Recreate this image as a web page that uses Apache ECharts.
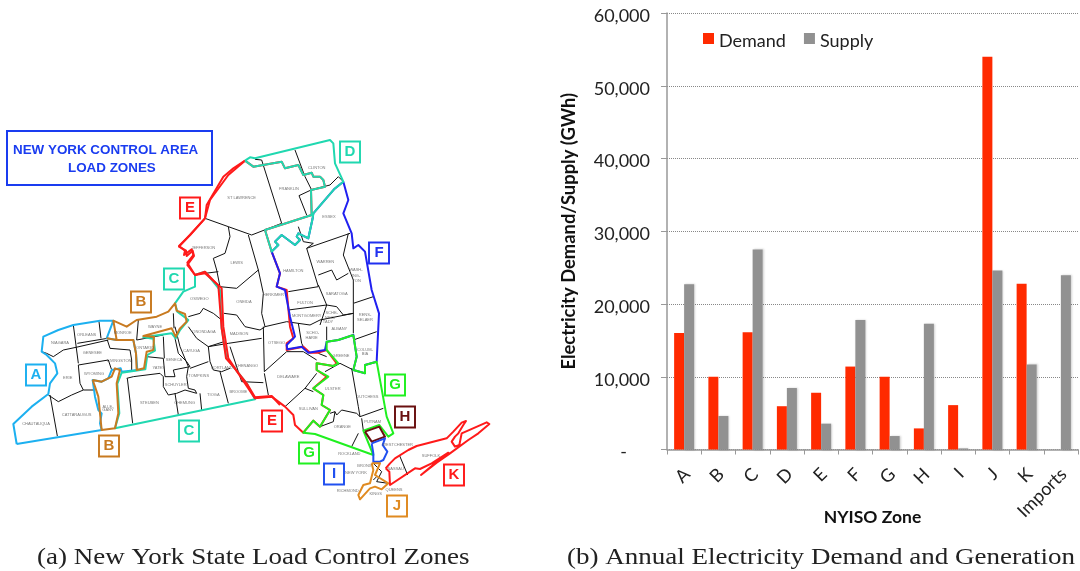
<!DOCTYPE html>
<html><head><meta charset="utf-8">
<style>html,body{margin:0;padding:0;background:#fff}#c{width:1080px;height:571px}</style>
<script src="https://cdn.jsdelivr.net/npm/echarts@6/dist/echarts.min.js"></script>
</head><body><div id="c"></div>
<script>
// ---------- bar chart data ----------
const categories=['A','B','C','D','E','F','G','H','I','J','K','Imports'];
const demand=[16000,10000,16100,5950,7800,11400,10000,2900,6100,54000,22800,0];
const supply=[22700,4600,27500,8450,3550,17800,1850,17300,150,24600,11700,23950];
const yTicks=[0,10000,20000,30000,40000,50000,60000];

// ---------- map outlines, west part and east part (each in its own map units) ----------
const zoneA=[50,972,40,912,95,860,145,822,150,790,172,760,165,730,140,705,125,695,130,650,175,630,220,615,300,602,340,602,320,655,350,660,400,660,408,700,412,750,365,755,362,745,335,750,325,775,305,785,278,780,285,830,295,870,305,880,300,910,305,930,50,972];
const zoneB1=[320,655,350,660,340,602,380,620,410,600,470,590,505,575,525,550,530,572,555,582,560,605,540,625,527,650,515,625,430,648,462,650,460,690,440,695,432,745,410,750,408,700,400,660,350,660];
const zoneB2=[278,780,305,785,335,770,345,745,360,750,350,790,355,880,345,925,305,930,300,880,295,830,285,800,278,780];
const zoneC=[615,455,585,465,585,500,550,515,525,550,532,575,565,600,540,630,527,655,515,640,430,652,460,656,465,692,442,705,436,748,365,758,352,792,358,880,345,925,765,838,740,790,700,740,680,715,665,625,660,510,615,455];
const zoneEw=[735,122,700,145,670,170,620,255,615,295,570,345,537,378,555,392,552,405,575,388,580,405,562,428,585,465,615,455,655,497,665,625,678,715,700,740,740,790,765,832,815,828,840,855];
const zoneE=[225,92,175,135,120,210,105,265,60,315,27,350,48,362,50,378,68,362,72,378,52,405,75,435,105,430,155,475,160,590,175,685,255,805,305,800,345,830,370,855,375,885,400,908,430,872,450,890,480,840,455,825,460,795,430,775,470,740,440,720,440,700,490,708,500,700,470,660,445,668,420,668,400,650,350,660,350,640,370,625,360,590,350,480,320,470,330,430,305,365,285,300,425,255,423,180,465,170,460,150,450,140,430,140,425,128,400,135,385,105,345,115,335,95,250,110,225,92];
const zoneD=[225,92,240,82,255,85,480,30,490,40,495,100,520,155,492,178,430,250,428,265,415,325,385,310,380,320,390,330,375,345,335,315,315,335,325,345,305,365,285,300,425,255,423,180,465,170,460,150,450,140,430,140,425,128,400,135,385,105,345,115,335,95,250,110,225,92];
const zoneF=[520,155,535,210,520,250,545,310,550,355,565,345,585,365,605,480,627,550,620,695,585,705,585,730,550,720,560,680,550,615,505,630,470,635,465,660,415,668,395,650,352,658,350,645,375,620,360,560,345,480,320,470,330,430,305,365,325,345,315,335,335,315,375,345,390,330,380,320,385,310,415,325,428,265,430,250,492,178,520,155];
const zoneG=[550,615,560,680,550,720,585,730,585,705,620,695,650,860,670,910,655,920,628,885,580,902,610,975,435,912,400,908,430,872,450,890,480,840,455,825,460,795,430,775,475,740,440,720,440,700,490,708,505,700,470,660,470,635,505,630,550,615];
const zoneH=[585,905,628,890,645,920,605,935,585,905];
const zoneI=[605,940,645,925,638,945,652,965,640,990,630,995,610,995,610,970,605,940];
const zoneJ=[605,1000,630,1000,615,1035,655,1060,635,1078,615,1070,600,1075,570,1108,565,1095,580,1065,600,1060,610,1020,605,1000];
const zoneK=[647,1015,660,1000,675,985,715,960,740,948,830,925,850,905,875,878,888,873,880,885,865,910,855,920,845,935,855,950,868,945,875,910,950,877,958,882,925,910,895,930,840,970,800,998,753,1035,750,1032,795,1000,835,968,785,1000,750,1017,735,1015,660,1065,658,1025,647,1015];

const countyLinesWest=[
 [145,825,175,845,215,825,250,810,285,810],[150,825,172,948],
 [125,695,140,700,160,710,190,690,228,682,325,660],[220,615,235,730],[232,670,322,655],[297,605,303,655],
 [235,735,240,790,250,810],[235,735,325,720,335,750],[322,660,330,685,390,690,395,720,395,750],
 [415,600,410,660],[520,580,522,625],[410,660,490,645],
 [380,775,400,770,480,760,490,770,490,800,505,825,530,820,555,810,590,820],[382,775,398,910],
 [440,710,490,715,495,770,525,770,520,750,570,740,560,725,535,700,525,655],[490,650,493,715],
 [525,620,540,680,565,740,560,770,565,805,585,810,590,820],[565,590,600,580,610,565,640,580,665,600],
 [565,620,590,655,625,680,672,665],[625,680,630,725,640,750,665,755,690,745],[625,725,570,745],
 [660,755,685,850],[600,820,605,870],[525,820,535,885]];
const countyLinesEast=[
 [105,265,175,290,245,315,335,280],[255,88,275,90,335,280],[375,60,405,140,425,180],[387,197,423,180],[387,197,410,255],
 [423,180,480,165,505,140,520,155],[175,290,180,320,165,370,130,385,140,420,150,470,200,475,265,420],[105,430,145,425],
 [235,315,265,420,280,490,275,550,285,590],[162,550,200,555,225,590,270,600,285,590,350,575,420,585,450,570,550,550],
 [175,640,275,625],[115,650,175,640],[180,650,215,755,280,758],[280,590,283,725,350,665],[283,730,295,795],
 [350,665,400,665,440,690],[440,730,405,775,345,830],[405,775,430,785],[385,290,400,335,430,340,410,355,540,310],[410,355,445,470,355,485],
 [445,435,485,420,500,450,535,430],[535,310,520,375,550,450,550,520,610,500],[445,465,470,525,450,585],
 [355,540,470,525,500,530,520,555,550,550],[550,520,550,610],[385,580,395,640,400,650],[470,590,470,630],[550,630,620,605],
 [445,670,470,680],[545,715,565,830,570,860,640,835],[575,865,580,902],[465,725,510,700,550,720],
 [480,850,495,845,500,855,515,840,560,850,570,860],[495,845,490,875,450,890],[565,910,545,950],[688,975,713,1035],
 [610,1000,635,1025,620,1055,655,1060],[610,1050,620,1040]];

const countiesWest=[['NIAGARA',180,670],['ORLEANS',260,644],['MONROE',368,640],['WAYNE',465,620],['GENESEE',277,700],['ERIE',203,775],['WYOMING',282,761],['LIVINGSTON',358,724],['ONTARIO',435,683],['YATES',476,744],['SENECA',522,721],['CAYUGA',575,694],['CATTARAUGUS',230,886],['CHAUTAUQUA',108,911],['ALLE-',324,860],['GANY',324,870],['STEUBEN',448,848],['CHEMUNG',554,850],['SCHUYLER',527,796],['TOMPKINS',596,769],['TIOGA',640,826],['BROOME',715,817],['CORTLAND',665,743],['ONONDAGA',612,635]];
const countiesEast=[['ST LAWRENCE',215,203],['FRANKLIN',357,176],['CLINTON',440,113],['ESSEX',477,260],['JEFFERSON',100,353],['LEWIS',200,398],['HAMILTON',370,422],['WARREN',466,395],['HERKIMER',310,495],['ONEIDA',222,515],['FULTON',405,518],['SARATOGA',500,491],['MONTGOMERY',410,557],['OSWEGO',88,506],['WASH-',558,420],['ING-',558,437],['TON',560,452],['RENS-',585,556],['SELAER',585,569],['SCHE-',485,550],['NEC-',480,563],['TADY',474,575],['ALBANY',508,596],['SCHO-',428,610],['HARIE',425,625],['OTSEGO',320,640],['MADISON',207,611],['CHENANGO',230,707],['COLUM-',585,660],['BIA',585,672],['GREENE',513,677],['DELAWARE',355,740],['ULSTER',488,776],['DUTCHESS',592,800],['SULLIVAN',415,838],['ORANGE',517,892],['PUTNAM',608,875],['WESTCHESTER',683,946],['ROCKLAND',538,973],['SUFFOLK',783,977],['NASSAU',677,1018],['BRONX',583,1007],['NEW YORK',558,1030],['RICHMOND',533,1082],['KINGS',617,1093],['QUEENS',672,1081]];

const zoneBoxes=[['A',36,375,'#1cb0f0'],['B',141,302,'#c87a20'],['C',174,279,'#20d8b0'],['E',190,208,'#ff1a1a'],['D',350,152,'#20d8b0'],['F',379,253,'#2030f0'],['G',395,385,'#20f020'],['H',405,417,'#6a1010'],['E',272,421,'#ff1a1a'],['G',309,453,'#20f020'],['I',334,474,'#2050f0'],['K',454,475,'#ff1a1a'],['J',397,506,'#e08a20'],['C',189,431,'#20d8b0'],['B',109,446,'#c87a20']];

// ---------- helpers ----------
const west=a=>{const o=[];for(let i=0;i<a.length;i+=2)o.push([a[i]/3,120+a[i+1]/3]);return o;};
const east=a=>{const o=[];for(let i=0;i<a.length;i+=2)o.push([170+a[i]/3,130+a[i+1]/3]);return o;};
const mapLine=(data,color,width)=>({type:'line',xAxisIndex:1,yAxisIndex:1,data,showSymbol:false,symbol:'none',silent:true,animation:false,
  lineStyle:{color,width,join:'round'},z:3});
const serif='"Liberation Serif","DejaVu Serif",serif';
const sans='Lato,"Open Sans",sans-serif';
const caption=(text,x,y,sx)=>({type:'text',x,y,scaleX:sx,style:{text,font:'23px '+serif,fill:'#222'}});
const labelRich=(pad)=>({t:{fontFamily:sans,fontSize:18,color:'#222',padding:[pad,0,0,0]}});

const series=[
 {name:'Demand',type:'bar',data:demand,barWidth:10,barGap:0,itemStyle:{color:'#ff2a00'},animation:false,z:4},
 {name:'Supply',type:'bar',data:supply,barWidth:10,barGap:0,itemStyle:{color:'#919191',shadowColor:'rgba(0,0,0,0.18)',shadowBlur:2,shadowOffsetX:1},animation:false,z:4},
];
countyLinesWest.forEach(l=>series.push(mapLine(west(l),'#111',1)));
countyLinesEast.forEach(l=>series.push(mapLine(east(l),'#111',1)));
[[west(zoneA),'#1cb0f0'],[west(zoneC),'#20d8b0'],[west(zoneB1),'#c87a20'],[west(zoneB2),'#c87a20'],[west(zoneEw),'#ff1a1a'],
 [east(zoneE),'#ff1a1a'],[east(zoneF),'#2020f0'],[east(zoneD),'#20d8b0'],[east(zoneG),'#20f020'],[east(zoneH),'#6a1010'],
 [east(zoneI),'#2050f0'],[east(zoneJ),'#e08a20'],[east(zoneK),'#ff1a1a']]
 .forEach(([d,c])=>series.push(mapLine(d,c,2)));
const countyPts=countiesWest.map(c=>({value:west([c[1],c[2]])[0],name:c[0]}))
  .concat(countiesEast.map(c=>({value:east([c[1],c[2]])[0],name:c[0]})));
series.push({type:'scatter',xAxisIndex:1,yAxisIndex:1,data:countyPts,symbolSize:0,silent:true,animation:false,z:5,
  label:{show:true,position:'inside',formatter:'{b}',fontSize:4,color:'#555',fontFamily:'Liberation Sans'}});
series.push({type:'scatter',xAxisIndex:1,yAxisIndex:1,symbol:'rect',symbolSize:[20,21],silent:true,animation:false,z:6,
  data:zoneBoxes.map(b=>({value:[b[1],b[2]],name:b[0],
    itemStyle:{color:'#fff',borderColor:b[3],borderWidth:2,opacity:1},
    label:{show:true,position:'inside',formatter:'{b}',color:b[3],fontSize:15,fontWeight:'bold',fontFamily:'Liberation Sans'}}))});

const chart=echarts.init(document.getElementById('c'),null,{renderer:'canvas'});
chart.setOption({
 animation:false,backgroundColor:'#fff',
 grid:[{left:667,right:2,top:13,bottom:121.5},{left:0,top:0,width:540,height:571}],
 legend:{data:['Demand','Supply'],left:698,top:27,itemWidth:11,itemHeight:11,itemGap:18,icon:'rect',
   formatter:n=>'{t|'+n+'}',textStyle:{fontFamily:sans,fontSize:18,color:'#222',rich:labelRich(5)}},
 xAxis:[
  {type:'category',gridIndex:0,data:categories,
   axisLine:{lineStyle:{color:'#999',width:1.5}},axisTick:{show:true,length:5,alignWithLabel:false,lineStyle:{color:'#999'}},
   axisLabel:{rotate:45,interval:0,margin:19,fontFamily:sans,fontSize:18,color:'#222',
     formatter:v=>'{t|'+v+'}',rich:labelRich(8)},
   name:'NYISO Zone',nameLocation:'middle',nameGap:59,nameMoveOverlap:false,nameTextStyle:{fontFamily:sans,fontWeight:'bold',fontSize:17.5,color:'#111'}},
  {type:'value',gridIndex:1,min:0,max:540,show:false}],
 yAxis:[
  {type:'value',gridIndex:0,min:0,max:60000,interval:10000,
   axisLine:{show:true,lineStyle:{color:'#999',width:1.5}},axisTick:{show:true,length:6,lineStyle:{color:'#999'}},
   splitLine:{lineStyle:{type:'dotted',color:'#888',width:1}},
   axisLabel:{margin:17,fontFamily:sans,fontSize:18,color:'#222',rich:labelRich(6),
     formatter:v=>'{t|'+(v===yTicks[0]?'-     ':v.toLocaleString('en-US'))+'}'},
   name:'Electricity Demand/Supply (GWh)',nameLocation:'middle',nameGap:89,nameMoveOverlap:false,nameTextStyle:{fontFamily:sans,fontWeight:'bold',fontSize:18.4,color:'#111'}},
  {type:'value',gridIndex:1,min:0,max:571,inverse:true,show:false}],
 series,
 graphic:[
  {type:'rect',shape:{x:7,y:131,width:205,height:54},style:{fill:'none',stroke:'#1a3cf0',lineWidth:2}},
  {type:'text',x:13,y:144,style:{text:'NEW YORK CONTROL AREA',font:'bold 13.4px "Liberation Sans"',fill:'#1a3cf0'}},
  {type:'text',x:68,y:162,style:{text:'LOAD ZONES',font:'bold 13.4px "Liberation Sans"',fill:'#1a3cf0'}},
  caption('(a) New York State Load Control Zones',37,546,1.175),
  caption('(b) Annual Electricity Demand and Generation',567,546,1.175)
 ]
});
</script></body></html>
